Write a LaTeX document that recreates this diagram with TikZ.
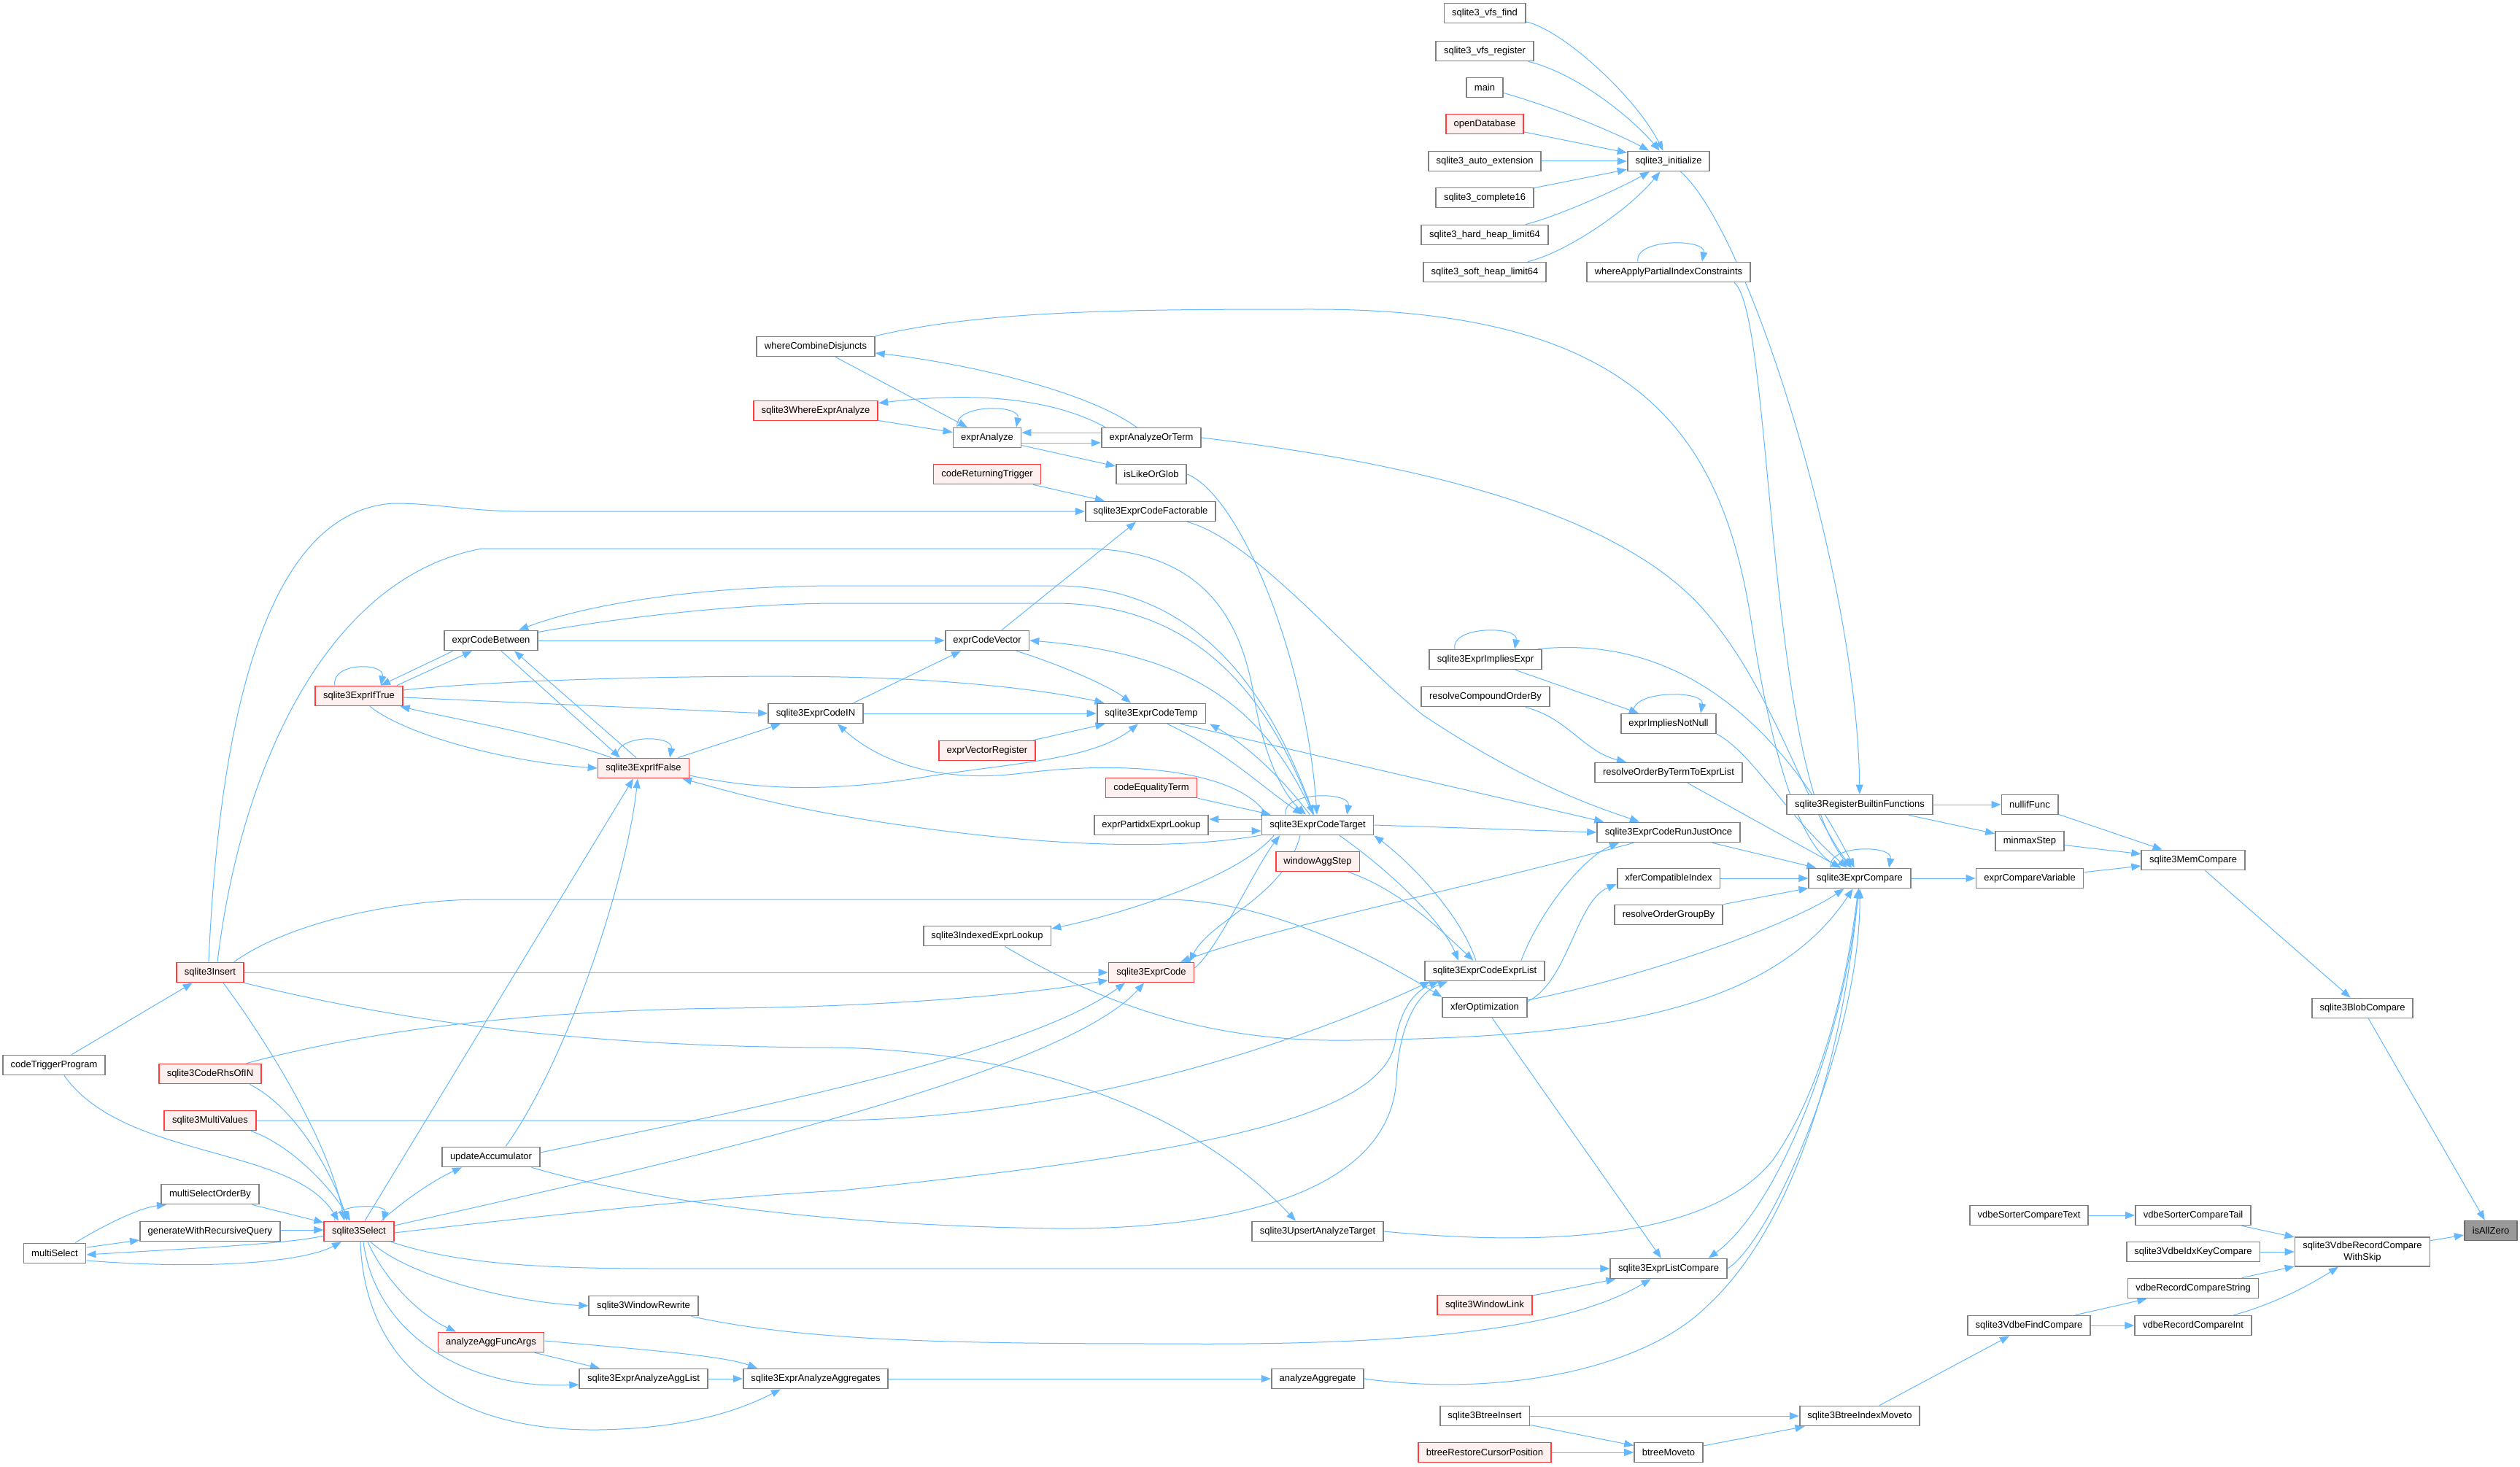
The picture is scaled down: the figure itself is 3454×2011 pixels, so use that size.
\documentclass[tikz,border=0pt]{standalone}
\usepackage{fontspec}
\setmainfont{Liberation Sans}
\usetikzlibrary{arrows.meta}
\pgfdeclarelayer{bg}
\pgfsetlayers{bg,main}
\definecolor{edgec}{HTML}{63B8FF}
\definecolor{nodeb}{HTML}{808080}
\definecolor{redb}{HTML}{FF3B3B}
\definecolor{redf}{HTML}{FFF0F0}
\definecolor{rootf}{HTML}{999999}
\definecolor{rootb}{HTML}{6E6E6E}
\begin{document}
\begin{tikzpicture}[x=0.5pt,y=-0.5pt,
 fn/.style={draw=nodeb, fill=white, line width=0.9pt, minimum height=13.5pt, inner xsep=5.4pt, inner ysep=0pt, font=\fontsize{6.5}{7.8}\selectfont},
 rfn/.style={fn, draw=redb, fill=redf},
 rootn/.style={fn, draw=rootb, fill=rootf},
 e/.style={draw=edgec, line width=0.5pt, -{Triangle[length=6.5pt,width=5pt]}},
]
\useasboundingbox (0,0) rectangle (3454,2011);
% ---------------- nodes
\node[rootn] (isallzero) at (3414,1687) {isAllZero};
\node[fn, align=center, inner ysep=3pt] (withskip) at (3238,1716) {sqlite3VdbeRecordCompare\\WithSkip};
\node[fn] (blobcmp) at (3238,1382) {sqlite3BlobCompare};
\node[fn] (memcmp) at (3006,1179) {sqlite3MemCompare};
\node[fn] (nullif) at (2782,1103) {nullifFunc};
\node[fn] (minmax) at (2782,1153) {minmaxStep};
\node[fn] (cmpvar) at (2782,1204) {exprCompareVariable};
\node[fn] (sortertail) at (3006,1666) {vdbeSorterCompareTail};
\node[fn] (sortertext) at (2781,1666) {vdbeSorterCompareText};
\node[fn] (idxkey) at (3006,1716) {sqlite3VdbeIdxKeyCompare};
\node[fn] (rcstring) at (3006,1766) {vdbeRecordCompareString};
\node[fn] (rcint) at (3006,1817) {vdbeRecordCompareInt};
\node[fn] (findcmp) at (2781,1817) {sqlite3VdbeFindCompare};
\node[fn] (idxmoveto) at (2549,1941) {sqlite3BtreeIndexMoveto};
\node[fn] (btinsert) at (2035,1941) {sqlite3BtreeInsert};
\node[fn] (btmoveto) at (2287,1991) {btreeMoveto};
\node[rfn] (restore) at (2035,1991) {btreeRestoreCursorPosition};
\node[fn] (exprcmp) at (2549,1204) {sqlite3ExprCompare};
\node[fn] (regbuiltin) at (2549,1103) {sqlite3RegisterBuiltinFunctions};
\node[fn] (init) at (2287,221) {sqlite3\_initialize};
\node[fn] (wapic) at (2287,373) {whereApplyPartialIndexConstraints};
\node[fn] (vfsfind) at (2035,18) {sqlite3\_vfs\_find};
\node[fn] (vfsreg) at (2035,70) {sqlite3\_vfs\_register};
\node[fn] (main) at (2035,120) {main};
\node[rfn] (opendb) at (2035,170) {openDatabase};
\node[fn] (autoext) at (2035,221) {sqlite3\_auto\_extension};
\node[fn] (complete16) at (2035,271) {sqlite3\_complete16};
\node[fn] (hardheap) at (2035,322) {sqlite3\_hard\_heap\_limit64};
\node[fn] (softheap) at (2035,373) {sqlite3\_soft\_heap\_limit64};
\node[fn] (impliesexpr) at (2036,904) {sqlite3ExprImpliesExpr};
\node[fn] (impliesnn) at (2287,992) {exprImpliesNotNull};
\node[fn] (rcob) at (2036,955) {resolveCompoundOrderBy};
\node[fn] (robt) at (2287,1059) {resolveOrderByTermToExprList};
\node[fn] (rjo) at (2287,1141) {sqlite3ExprCodeRunJustOnce};
\node[fn] (xci) at (2287,1204) {xferCompatibleIndex};
\node[fn] (rogb) at (2287,1254) {resolveOrderGroupBy};
\node[fn] (celist) at (2035,1331) {sqlite3ExprCodeExprList};
\node[fn] (xfer) at (2035,1381) {xferOptimization};
\node[fn] (elcmp) at (2287,1739) {sqlite3ExprListCompare};
\node[rfn] (wlink) at (2035,1789) {sqlite3WindowLink};
\node[fn] (upsert) at (1806,1688) {sqlite3UpsertAnalyzeTarget};
\node[fn] (aagg) at (1806,1890) {analyzeAggregate};
\node[fn] (eaaggs) at (1118,1890) {sqlite3ExprAnalyzeAggregates};
\node[fn] (eaagglist) at (882,1890) {sqlite3ExprAnalyzeAggList};
\node[rfn] (aafa) at (673,1840) {analyzeAggFuncArgs};
\node[fn] (wrewrite) at (882,1790) {sqlite3WindowRewrite};
\node[rfn] (select) at (492,1688) {sqlite3Select};
\node[fn] (msob) at (288,1637) {multiSelectOrderBy};
\node[fn] (gwrq) at (288,1688) {generateWithRecursiveQuery};
\node[fn] (mselect) at (75,1718) {multiSelect};
\node[fn] (updacc) at (673,1586) {updateAccumulator};
\node[rfn] (multivalues) at (288,1536) {sqlite3MultiValues};
\node[rfn] (rhsin) at (288,1472) {sqlite3CodeRhsOfIN};
\node[fn] (ctp) at (74,1460) {codeTriggerProgram};
\node[rfn] (insert) at (288,1333) {sqlite3Insert};
\node[rfn] (ecode) at (1578,1333) {sqlite3ExprCode};
\node[fn] (iel) at (1353,1283) {sqlite3IndexedExprLookup};
\node[rfn] (was) at (1806,1181) {windowAggStep};
\node[fn] (ect) at (1806,1131) {sqlite3ExprCodeTarget};
\node[rfn] (ceq) at (1578,1080) {codeEqualityTerm};
\node[fn] (pel) at (1578,1131) {exprPartidxExprLookup};
\node[rfn] (evr) at (1353,1029) {exprVectorRegister};
\node[fn] (etemp) at (1578,978) {sqlite3ExprCodeTemp};
\node[fn] (ecin) at (1118,978) {sqlite3ExprCodeIN};
\node[rfn] (iffalse) at (882,1053) {sqlite3ExprIfFalse};
\node[rfn] (iftrue) at (492,954) {sqlite3ExprIfTrue};
\node[fn] (ecb) at (673,878) {exprCodeBetween};
\node[fn] (ecv) at (1353,878) {exprCodeVector};
\node[fn] (ecf) at (1577,701) {sqlite3ExprCodeFactorable};
\node[rfn] (crt) at (1353,650) {codeReturningTrigger};
\node[fn] (ilog) at (1578,650) {isLikeOrGlob};
\node[fn] (ea) at (1353,600) {exprAnalyze};
\node[fn] (eaot) at (1578,600) {exprAnalyzeOrTerm};
\node[rfn] (wea) at (1118,563) {sqlite3WhereExprAnalyze};
\node[fn] (wcd) at (1118,475) {whereCombineDisjuncts};
% ---------------- edges
\begin{pgfonlayer}{bg}
\fill[white] (0,0) rectangle (3454,2011);
% right cluster
\draw[e] (blobcmp) -- (isallzero);
\draw[e] (withskip) -- (isallzero);
\draw[e] (memcmp) -- (blobcmp);
\draw[e] (nullif) -- (memcmp);
\draw[e] (minmax) -- (memcmp);
\draw[e] (cmpvar) -- (memcmp);
\draw[e] (regbuiltin) -- (nullif);
\draw[e] (regbuiltin) -- (minmax);
\draw[e] (exprcmp) -- (cmpvar);
\draw[e] ([xshift=-20pt]exprcmp.north) .. controls +(-6,-32) and +(6,-32) .. ([xshift=20pt]exprcmp.north);
\draw[e] (sortertext) -- (sortertail);
\draw[e] (sortertail) -- (withskip);
\draw[e] (idxkey) -- (withskip);
\draw[e] (rcstring) -- (withskip);
\draw[e] (rcint) .. controls (3110,1790) and (3160,1765) .. (withskip);
\draw[e] (findcmp) -- (rcstring);
\draw[e] (findcmp) -- (rcint);
\draw[e] (idxmoveto) -- (findcmp);
\draw[e] (btinsert) -- (idxmoveto);
\draw[e] (btmoveto) -- (idxmoveto);
\draw[e] (btinsert) -- (btmoveto);
\draw[e] (restore) -- (btmoveto);
% sqlite3_initialize
\draw[e] (init) .. controls (2400,320) and (2546,800) .. (regbuiltin);
\draw[e] (vfsfind) .. controls (2140,40) and (2240,130) .. (init);
\draw[e] (vfsreg) .. controls (2160,100) and (2235,160) .. (init);
\draw[e] (main) .. controls (2140,150) and (2220,185) .. (init);
\draw[e] (opendb) -- (init);
\draw[e] (autoext) -- (init);
\draw[e] (complete16) -- (init);
\draw[e] (hardheap) .. controls (2140,295) and (2220,258) .. (init);
\draw[e] (softheap) .. controls (2150,345) and (2235,285) .. (init);
% callers of sqlite3ExprCompare
\draw[e] ([xshift=-21pt]wapic.north) .. controls +(-6,-32) and +(6,-32) .. ([xshift=23pt]wapic.north);
\draw[e] ([xshift=45pt]wapic.south) .. controls (2430,430) and (2420,1050) .. (exprcmp);
\draw[e] ([xshift=-21pt]impliesexpr.north) .. controls +(-6,-32) and +(6,-32) .. ([xshift=20pt]impliesexpr.north);
\draw[e] ([xshift=-3pt]impliesexpr.north east) .. controls (2300,870) and (2440,990) .. (exprcmp);
\draw[e] (impliesexpr) -- (impliesnn);
\draw[e] ([xshift=-24pt]impliesnn.north) .. controls +(-6,-32) and +(6,-32) .. ([xshift=22pt]impliesnn.north);
\draw[e] (impliesnn.south east) .. controls (2400,1030) and (2450,1120) .. (exprcmp);
\draw[e] (rcob) .. controls (2150,985) and (2170,1030) .. (robt);
\draw[e] (robt) -- (exprcmp);
\draw[e] (rjo) -- (exprcmp);
\draw[e] (xci) -- (exprcmp);
\draw[e] (rogb) -- (exprcmp);
\draw[e] (elcmp.east) .. controls (2430,1700) and (2550,1420) .. (exprcmp);
\draw[e] (exprcmp) .. controls (2525,1450) and (2430,1660) .. ([xshift=-13pt]elcmp.north east);
\draw[e] (wcd.north east) .. controls (1350,425) and (1550,424) .. (1800,424) .. controls (2250,424) and (2360,600) .. (2400,850) .. controls (2430,1050) and (2470,1160) .. (exprcmp);
\draw[e] (eaot.east) .. controls (1900,630) and (2200,690) .. (2330,830) .. controls (2430,940) and (2470,1100) .. (exprcmp);
\draw[e] ([yshift=5pt]xfer.east) .. controls (2250,1340) and (2450,1270) .. (exprcmp);
\draw[e] (iel) .. controls (1550,1400) and (1700,1428) .. (1850,1426) .. controls (2150,1422) and (2420,1400) .. (exprcmp);
\draw[e] (upsert.east) .. controls (2150,1712) and (2350,1690) .. (2430,1590) .. controls (2500,1490) and (2530,1350) .. (exprcmp);
\draw[e] (aagg.east) .. controls (2050,1915) and (2250,1880) .. (2340,1790) .. controls (2460,1680) and (2525,1450) .. (exprcmp);
% callers of sqlite3ExprListCompare
\draw[e] (xfer) -- (elcmp);
\draw[e] (wlink) -- (elcmp);
\draw[e] (select) .. controls (620,1730) and (720,1739) .. (900,1739) -- (elcmp);
\draw[e] (wrewrite) .. controls (1100,1838) and (1300,1842) .. (1600,1842) .. controls (1950,1845) and (2150,1820) .. (elcmp);
% where* cluster
\draw[e] (wcd) -- (ea);
\draw[e] (eaot) .. controls (1480,530) and (1300,495) .. (wcd);
\draw[e] ([xshift=3pt]eaot.north west) .. controls (1450,550) and (1350,535) .. (wea);
\draw[e] (wea) -- (ea);
\draw[e] ([xshift=-20.5pt]ea.north) .. controls +(-6,-32) and +(6,-32) .. ([xshift=20pt]ea.north);
\draw[e] ([yshift=3.5pt]eaot.west) -- ([yshift=3.5pt]ea.east);
\draw[e] ([yshift=-3.5pt]ea.east) -- ([yshift=-3.5pt]eaot.west);
\draw[e] (ea) -- (ilog);
\draw[e] (crt) -- (ecf);
\draw[e] (ilog.east) .. controls (1700,680) and (1790,900) .. (ect);
% sqlite3Insert upper lines
\draw[e] ([xshift=-1pt]insert.north) .. controls (300,1000) and (360,700) .. (540,690) .. controls (600,690) and (640,701) .. (720,701) -- (ecf);
\draw[e] ([xshift=5pt]insert.north) .. controls (330,1050) and (450,790) .. (661,752) -- (1483,752) .. controls (1650,752) and (1700,850) .. (1718,950) .. controls (1732,1040) and (1760,1090) .. (ect);
% exprCodeBetween / IfTrue / IfFalse
\draw[e] (ecb) -- (ecv);
\draw[e] (ect) .. controls (1745,960) and (1650,805) .. (1450,803) -- (1152,803) .. controls (950,803) and (800,830) .. (ecb);
\draw[e] (ecb) .. controls (830,850) and (1000,827) .. (1152,827) -- (1450,827) .. controls (1640,830) and (1735,950) .. (ect);
\draw[e] ([xshift=-26pt]ecb.south) -- ([xshift=15pt]iftrue.north);
\draw[e] ([xshift=26pt]iftrue.north) -- ([xshift=-13pt]ecb.south);
\draw[e] ([xshift=7pt]ecb.south) -- ([xshift=-16pt]iffalse.north);
\draw[e] ([xshift=-5pt]iffalse.north) -- ([xshift=16pt]ecb.south);
\draw[e] ([xshift=-16.5pt]iftrue.north) .. controls +(-6,-32) and +(6,-32) .. ([xshift=15pt]iftrue.north);
\draw[e] ([xshift=-18pt]iffalse.north) .. controls +(-6,-32) and +(6,-32) .. ([xshift=18pt]iffalse.north);
\draw[e] ([xshift=-22pt]iffalse.north) .. controls (760,1010) and (620,985) .. ([xshift=-2pt]iftrue.south east);
\draw[e] ([xshift=7.5pt]iftrue.south) .. controls (560,1010) and (700,1045) .. (iffalse.west);
\draw[e] ([yshift=-1pt]iftrue.east) -- (ecin.west);
\draw[e] ([yshift=4pt]iftrue.east) .. controls (700,930) and (1000,925) .. (1152,928) .. controls (1300,931) and (1430,945) .. (etemp);
\draw[e] ([xshift=-8pt]iffalse.north east) -- ([xshift=-24pt]ecin.south);
\draw[e] ([yshift=-5pt]iffalse.east) .. controls (1050,1085) and (1150,1085) .. (1280,1063) .. controls (1400,1045) and (1500,1040) .. (etemp);
\draw[e] (ect) .. controls (1600,1168) and (1400,1160) .. (1152,1118) .. controls (1050,1100) and (1000,1085) .. (iffalse);
% CodeIN / CodeVector / CodeTemp / CodeTarget
\draw[e] (ecin) -- (etemp);
\draw[e] ([xshift=-7pt]ecin.north east) -- ([xshift=-18pt]ecv.south);
\draw[e] ([xshift=10pt]ecv.north) -- ([xshift=-10pt]ecf.south);
\draw[e] ([xshift=20pt]ecv.south) .. controls (1450,910) and (1520,940) .. ([xshift=-14pt]etemp.north);
\draw[e] (ect) .. controls (1730,960) and (1620,895) .. (ecv.east);
\draw[e] (evr) -- (etemp);
\draw[e] ([xshift=11pt]etemp.south) .. controls (1680,1030) and (1725,1075) .. (ect);
\draw[e] (ect) .. controls (1745,1050) and (1690,1010) .. ([xshift=40pt]etemp.south);
\draw[e] ([xshift=20pt]etemp.south) -- ([xshift=5pt]rjo.north west);
\draw[e] ([xshift=25pt]ecf.south) .. controls (1720,740) and (1850,900) .. (1950,980) .. controls (2100,1080) and (2200,1110) .. ([xshift=-20pt]rjo.north);
\draw[e] (ect.east) -- (rjo.west);
\draw[e] ([xshift=25pt]celist.north) .. controls (2110,1250) and (2170,1175) .. ([xshift=-34pt]rjo.south);
\draw[e] ([yshift=4pt]xfer.east) .. controls (2150,1345) and (2160,1235) .. ([yshift=-4pt]xci.west);
\draw[e] ([xshift=-24pt]rjo.south) .. controls (2000,1220) and (1750,1270) .. ([xshift=20pt]ecode.north);
\draw[e] ([yshift=3pt]ecode.east) .. controls (1670,1300) and (1720,1190) .. ([xshift=-26pt]ect.south);
\draw[e] ([xshift=-12pt]ect.south) .. controls (1760,1230) and (1660,1260) .. ([xshift=26pt]ecode.north);
\draw[e] ([xshift=-30pt]ect.south) .. controls (1700,1200) and (1550,1250) .. ([yshift=5pt]iel.east);
\draw[e] ([yshift=4pt]ect.west) -- ([yshift=4pt]pel.east);
\draw[e] ([yshift=-4pt]pel.east) -- ([yshift=-4pt]ect.west);
\draw[e] (ceq) -- (ect);
\draw[e] ([xshift=-22pt]ect.north) .. controls +(-6,-32) and +(6,-32) .. ([xshift=20pt]ect.north);
\draw[e] ([xshift=-35pt]ect.north) .. controls (1700,1060) and (1560,1040) .. (1400,1060) .. controls (1280,1075) and (1200,1040) .. ([xshift=15pt]ecin.south);
\draw[e] (was) .. controls (1920,1220) and (1980,1280) .. (celist);
\draw[e] ([xshift=-6pt]celist.north) .. controls (2000,1250) and (1930,1180) .. (ect.south east);
\draw[e] ([xshift=15pt]ect.south) .. controls (1900,1190) and (1975,1260) .. ([xshift=-18pt]celist.north);
% callers of sqlite3ExprCode / ExprCodeExprList
\draw[e] (insert) -- (ecode);
\draw[e] ([xshift=25pt]rhsin.north) .. controls (550,1400) and (800,1384) .. (1000,1382) .. controls (1200,1380) and (1400,1365) .. (ecode);
\draw[e] ([yshift=3pt]updacc.east) .. controls (1000,1525) and (1400,1450) .. ([xshift=-18pt]ecode.south);
\draw[e] ([yshift=4pt]select.east) .. controls (850,1610) and (1450,1480) .. ([xshift=-5pt]ecode.south);
\draw[e] (multivalues) -- (1150,1536) .. controls (1500,1530) and (1800,1420) .. ([xshift=4pt]celist.south west);
\draw[e] ([yshift=-1pt]select.east) .. controls (800,1660) and (1000,1640) .. (1152,1632) .. controls (1600,1585) and (1890,1540) .. (1912,1430) .. controls (1918,1390) and (1935,1360) .. ([xshift=10pt]celist.south west);
\draw[e] ([xshift=-6pt]updacc.south east) .. controls (900,1650) and (1150,1680) .. (1446,1684) .. controls (1700,1686) and (1905,1630) .. (1914,1480) .. controls (1918,1400) and (1945,1360) .. ([xshift=16pt]celist.south west);
\draw[e] ([xshift=10pt]updacc.north) .. controls (780,1450) and (860,1200) .. ([xshift=-4pt]iffalse.south);
\draw[e] ([xshift=4pt]select.north) -- ([xshift=-7pt]iffalse.south);
% sqlite3Select cluster
\draw[e] ([xshift=-9pt]select.north east) .. controls (560,1640) and (600,1615) .. ([xshift=-20pt]updacc.south);
\draw[e] ([xshift=-16.5pt]select.north) .. controls +(-6,-24) and +(6,-24) .. ([xshift=16.5pt]select.north);
\draw[e] ([xshift=9pt]insert.south) .. controls (360,1420) and (450,1560) .. ([xshift=-10pt]select.north);
\draw[e] (ctp) -- (insert);
\draw[e] ([xshift=7pt]ctp.south) .. controls (170,1590) and (400,1570) .. ([xshift=-14pt]select.north);
\draw[e] ([xshift=27pt]rhsin.south) .. controls (410,1520) and (460,1620) .. ([xshift=-8pt]select.north);
\draw[e] ([xshift=28pt]multivalues.south) .. controls (400,1570) and (455,1630) .. ([xshift=-6pt]select.north);
\draw[e] (msob) -- (select);
\draw[e] ([yshift=1pt]gwrq.east) -- ([yshift=1pt]select.west);
\draw[e] ([yshift=-3pt]select.west) .. controls (400,1705) and (250,1712) .. ([yshift=-1pt]mselect.east);
\draw[e] ([yshift=-5pt]mselect.east) .. controls (300,1742) and (420,1728) .. ([xshift=-12pt]select.south);
\draw[e] ([xshift=14pt]mselect.north) .. controls (150,1675) and (195,1655) .. ([xshift=-30pt]msob.south);
\draw[e] ([yshift=4pt]mselect.east) -- ([yshift=-6pt]gwrq.west);
\draw[e] ([xshift=8pt]select.south) .. controls (560,1750) and (700,1785) .. (wrewrite.west);
\draw[e] ([xshift=6pt]select.south) .. controls (530,1760) and (580,1805) .. ([xshift=-24pt]aafa.north);
\draw[e] ([xshift=3pt]select.south) .. controls (515,1830) and (640,1905) .. ([yshift=-4pt]eaagglist.west);
\draw[e] ([xshift=1pt]select.south) .. controls (500,1870) and (620,1962) .. (820,1960) .. controls (950,1958) and (1020,1930) .. ([xshift=-24pt]eaaggs.south);
\draw[e] (aafa) -- (eaagglist);
\draw[e] ([yshift=1pt]aafa.east) .. controls (880,1850) and (990,1858) .. ([xshift=-40pt]eaaggs.north);
\draw[e] (eaagglist) -- (eaaggs);
\draw[e] (eaaggs) -- (aagg);
\draw[e] (insert.south east) .. controls (550,1400) and (800,1436) .. (1152,1436) .. controls (1450,1445) and (1650,1540) .. ([xshift=-15pt]upsert.north);
\draw[e] ([xshift=-7pt]insert.north east) .. controls (400,1262) and (550,1233) .. (661,1233) -- (1600,1233) .. controls (1750,1235) and (1900,1320) .. (xfer.north west);
\end{pgfonlayer}
\end{tikzpicture}
\end{document}
